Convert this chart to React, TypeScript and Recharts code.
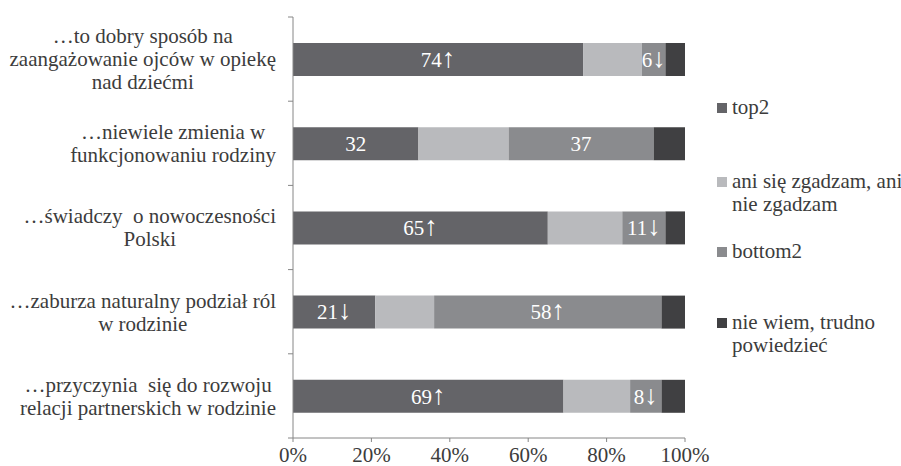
import { BarChart, Bar, XAxis, YAxis, Legend, LabelList } from "recharts";

const categories = [
  "…to dobry sposób na\nzaangażowanie ojców w opiekę\nnad dziećmi",
  "…niewiele zmienia w\nfunkcjonowaniu rodziny",
  "…świadczy  o nowoczesności\nPolski",
  "…zaburza naturalny podział ról\nw rodzinie",
  "…przyczynia  się do rozwoju\nrelacji partnerskich w rodzinie",
];
const top2 = [74, 32, 65, 21, 69];
const neutral = [15, 23, 19, 15, 17];
const bottom2 = [6, 37, 11, 58, 8];
const dontKnow = [5, 8, 5, 6, 6];
const top2Arrows = ["↑", "", "↑", "↓", "↑"];
const bottom2Arrows = ["↓", "", "↓", "↑", "↓"];
const seriesKeys = ["top2", "neutral", "bottom2", "dontKnow"];
const seriesNames = [
  "top2",
  "ani się zgadzam, ani\nnie zgadzam",
  "bottom2",
  "nie wiem, trudno\npowiedzieć",
];
const xTicks = [0, 20, 40, 60, 80, 100];

const data = categories.map((name, i) => ({
  name,
  top2: top2[i],
  neutral: neutral[i],
  bottom2: bottom2[i],
  dontKnow: dontKnow[i],
}));

const FONT = "'Liberation Serif', 'Times New Roman', serif";
const TEXT = "#3c3c3c";
const AXIS = "#868686";
const FS = 21;
const PLOT_H = 466 - 17 - 28;

let ctx: CanvasRenderingContext2D | null = null;
const measure = (s: string) => {
  if (!ctx) {
    ctx = document.createElement("canvas").getContext("2d");
    if (ctx) ctx.font = `${FS}px 'Liberation Serif'`;
  }
  return ctx ? ctx.measureText(s).width : s.length * 9;
};

const CategoryTick = (props: any) => {
  const { x, y, payload, index } = props;
  const half = payload.offset || PLOT_H / categories.length / 2;
  const lines = String(payload.value).split("\n");
  const w = Math.max(...lines.map(measure));
  const cx = x - 17 - w / 2;
  const lh = 23;
  const y0 = y - ((lines.length - 1) * lh) / 2;
  return (
    <g>
      <line x1={x - 5} x2={x} y1={y - half} y2={y - half} stroke={AXIS} />
      {index === categories.length - 1 && (
        <line x1={x - 5} x2={x} y1={y + half} y2={y + half} stroke={AXIS} />
      )}
      <text
        textAnchor="middle"
        fontFamily={FONT}
        fontSize={FS}
        fill={TEXT}
        style={{ whiteSpace: "pre" }}
      >
        {lines.map((l, i) => (
          <tspan key={i} x={cx} y={y0 + i * lh} dy="0.35em">
            {l}
          </tspan>
        ))}
      </text>
    </g>
  );
};

const makeLabel = (arrows: string[]) => (props: any) => {
  const { x, y, width, height, value, index } = props;
  return (
    <text
      x={x + width / 2}
      y={y + height / 2}
      dy="0.35em"
      textAnchor="middle"
      fontFamily={FONT}
      fontSize={FS}
      fill="#ffffff"
    >
      {value}
      {arrows[index] ? <tspan fontSize={27}>{arrows[index]}</tspan> : null}
    </text>
  );
};

const legendTops = [96, 170, 240, 311];

const LegendContent = (props: any) => {
  const items = [...(props.payload || [])].sort(
    (a: any, b: any) => seriesKeys.indexOf(a.dataKey) - seriesKeys.indexOf(b.dataKey)
  );
  return (
    <div style={{ position: "absolute", left: 717, top: 0, width: 183 }}>
      {items.map((it: any, i: number) => (
        <div
          key={i}
          style={{
            position: "absolute",
            top: legendTops[i],
            left: 0,
            width: 183,
            fontFamily: FONT,
            fontSize: FS,
            lineHeight: "23px",
            color: TEXT,
            whiteSpace: "pre",
          }}
        >
          <span
            style={{
              position: "absolute",
              left: 0,
              top: 7,
              width: 10,
              height: 10,
              background: it.color,
            }}
          />
          <div style={{ marginLeft: 15 }}>{it.value}</div>
        </div>
      ))}
    </div>
  );
};

export default function App() {
  return (
    <div style={{ position: "absolute", left: 0, top: 0, background: "#fff" }}>
      <BarChart
        width={901}
        height={466}
        data={data}
        layout="vertical"
        margin={{ top: 17, right: 216, bottom: 0, left: 0 }}
      >
        <YAxis
          yAxisId="cat"
          type="category"
          dataKey="name"
          width={293}
          tickLine={false}
          tickSize={0}
          tickMargin={0}
          axisLine={{ stroke: AXIS }}
          tick={<CategoryTick />}
          interval={0}
        />
        <XAxis
          type="number"
          domain={[0, 100]}
          ticks={xTicks}
          height={28}
          tickSize={4}
          tickMargin={5}
          tickFormatter={(v) => `${v}%`}
          axisLine={{ stroke: AXIS }}
          tickLine={{ stroke: AXIS }}
          tick={{ fontFamily: FONT, fontSize: FS, fill: TEXT }}
        />
        <Legend
          layout="vertical"
          align="right"
          verticalAlign="top"
          wrapperStyle={{ width: 0, height: 0, left: 0, top: 0, overflow: "visible" }}
          content={<LegendContent />}
        />
        {seriesKeys.map((k, i) => (
          <Bar
            key={k}
            yAxisId="cat"
            dataKey={k}
            name={seriesNames[i]}
            stackId="a"
            fill={["#646468", "#b9babd", "#8a8b8e", "#404042"][i]}
            barSize={33}
            isAnimationActive={false}
          >
            {k === "top2" && <LabelList dataKey="top2" content={makeLabel(top2Arrows)} />}
            {k === "bottom2" && (
              <LabelList dataKey="bottom2" content={makeLabel(bottom2Arrows)} />
            )}
          </Bar>
        ))}
      </BarChart>
    </div>
  );
}
